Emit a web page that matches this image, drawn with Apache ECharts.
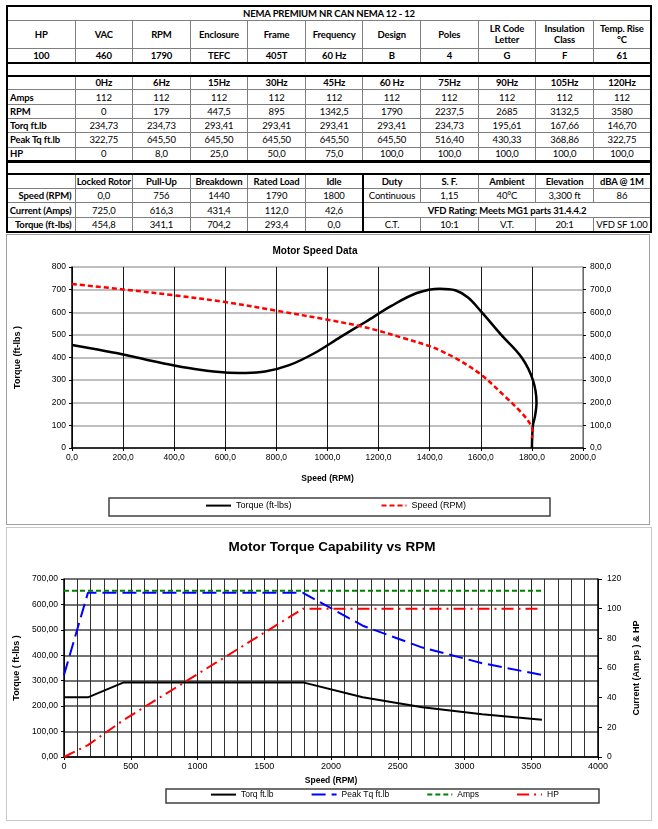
<!DOCTYPE html>
<html>
<head>
<meta charset="utf-8">
<script src="https://cdn.jsdelivr.net/npm/echarts@6/dist/echarts.min.js"></script>
<style>
body { margin:0; background:#fff; width:658px; height:829px; position:relative; overflow:hidden; }
#specs { position:absolute; left:6px; top:5px; width:646px; border-collapse:collapse; table-layout:fixed; border:2px solid #000; font:9.5px Lato, "Liberation Sans", sans-serif; letter-spacing:-0.15px; color:#000; }
#specs td { border:1px solid #7f7f7f; padding:0 1px; text-align:center; white-space:nowrap; overflow:hidden; line-height:11px; }
#specs tr { height:14.3px; }
#specs tr.tall { height:28px; }
#specs tr.gap { height:13px; }
#specs tr.gap td { border-top:2px solid #000; border-bottom:2px solid #000; }
#specs tr.gap2 td { border-top:3px solid #000; }
#specs .b { font-weight:bold; }
#specs td.lab { text-align:left; font-weight:bold; padding-left:2px; }
#specs td.rlab { text-align:right; font-weight:bold; padding-right:3px; }
#specs td.sep { border-left:2px solid #000; }
.frame { position:absolute; box-sizing:border-box; }
#f1 { left:6px; top:234px; width:644px; height:291px; border:1px solid #a0a0a0; }
#f2 { left:6px; top:527px; width:646px; height:294px; border:1px solid #c8c8c8; }
#chart1, #chart2 { width:100%; height:100%; }
</style>
</head>
<body>
<table id="specs"></table>
<div class="frame" id="f1"><div id="chart1"></div></div>
<div class="frame" id="f2"><div id="chart2"></div></div>
<script>
// nameplate table
var specTitle = "NEMA PREMIUM NR CAN NEMA 12 - 12";
var specHeads = ["HP", "VAC", "RPM", "Enclosure", "Frame", "Frequency", "Design", "Poles", "LR Code\nLetter", "Insulation\nClass", "Temp. Rise\n°C"];
var specValues = ["100", "460", "1790", "TEFC", "405T", "60 Hz", "B", "4", "G", "F", "61"];

// per frequency table (also used by the second chart)
var hzLabels = ["0Hz", "6Hz", "15Hz", "30Hz", "45Hz", "60 Hz", "75Hz", "90Hz", "105Hz", "120Hz"];
var hzAmps = [112, 112, 112, 112, 112, 112, 112, 112, 112, 112];
var hzRpm = [0, 179, 447.5, 895, 1342.5, 1790, 2237.5, 2685, 3132.5, 3580];
var hzTorq = [234.73, 234.73, 293.41, 293.41, 293.41, 293.41, 234.73, 195.61, 167.66, 146.70];
var hzPeak = [322.75, 645.50, 645.50, 645.50, 645.50, 645.50, 516.40, 430.33, 368.86, 322.75];
var hzHp = [0, 8, 25, 50, 75, 100, 100, 100, 100, 100];

// speed points table
var pointNames = ["Locked Rotor", "Pull-Up", "Breakdown", "Rated Load", "Idle"];
var pointSpeed = ["0,0", "756", "1440", "1790", "1800"];
var pointCurrent = [725.0, 616.3, 431.4, 112.0, 42.6];
var pointTorque = [454.8, 341.1, 704.2, 293.4, 0.0];
var ratingHeads = ["Duty", "S. F.", "Ambient", "Elevation", "dBA @ 1M"];
var ratingValues = ["Continuous", "1,15", "40°C", "3,300 ft", "86"];
var ratingNote = "VFD Rating: Meets MG1 parts 31.4.4.2";
var ratingLast = ["C.T.", "10:1", "V.T.", "20:1", "VFD SF 1.00"];

// motor speed curves
var torqueRpm = [0, 100, 200, 300, 400, 500, 600, 680, 756, 850, 950, 1050, 1150, 1250, 1350, 1440, 1500, 1550, 1600, 1680, 1760, 1804, 1818, 1812, 1804, 1800];
var torqueFt = [455, 435, 413, 388, 365, 346, 334, 332, 338, 366, 420, 490, 558, 628, 685, 704, 697, 665, 605, 500, 400, 300, 200, 140, 100, 0];
var currentRpm = [0, 200, 400, 600, 800, 1000, 1130, 1200, 1300, 1400, 1440, 1500, 1600, 1700, 1760, 1790, 1803, 1800];
var currentAmp = [725, 701, 675, 645, 607, 567, 538, 518, 485, 450, 431, 398, 325, 222, 155, 112, 75, 42.6];

function fmt(v, d) { return v.toFixed(d).replace(".", ","); }

// build the table
var cols = '<colgroup><col style="width:68px">';
for (var i = 0; i < 10; i++) cols += '<col>';
cols += '</colgroup>';
var h = cols;
h += '<tr><td colspan="11" class="b">' + specTitle + '</td></tr>';
h += '<tr class="tall">' + specHeads.map(function (s) { return '<td class="b">' + s.replace("\n", "<br>") + '</td>'; }).join("") + '</tr>';
h += '<tr>' + specValues.map(function (s) { return '<td class="b">' + s + '</td>'; }).join("") + '</tr>';
h += '<tr class="gap"><td colspan="11"></td></tr>';
h += '<tr><td></td>' + hzLabels.map(function (s) { return '<td class="b">' + s + '</td>'; }).join("") + '</tr>';
function row(label, arr, f) {
  return '<tr><td class="lab">' + label + '</td>' + arr.map(function (v) { return '<td>' + f(v) + '</td>'; }).join("") + '</tr>';
}
h += row("Amps", hzAmps, String);
h += row("RPM", hzRpm, function (v) { return String(v).replace(".", ","); });
h += row("Torq ft.lb", hzTorq, function (v) { return fmt(v, 2); });
h += row("Peak Tq ft.lb", hzPeak, function (v) { return fmt(v, 2); });
h += row("HP", hzHp, function (v) { return v === 0 ? "0" : fmt(v, 1); });
h += '<tr class="gap gap2"><td colspan="11"></td></tr>';
h += '<tr><td></td>' + pointNames.map(function (s) { return '<td class="b">' + s + '</td>'; }).join("") +
  ratingHeads.map(function (s, i) { return '<td class="b' + (i === 0 ? ' sep' : '') + '">' + s + '</td>'; }).join("") + '</tr>';
h += '<tr><td class="rlab">Speed (RPM)</td>' + pointSpeed.map(function (s) { return '<td>' + s + '</td>'; }).join("") +
  ratingValues.map(function (s, i) { return '<td' + (i === 0 ? ' class="sep"' : '') + '>' + s + '</td>'; }).join("") + '</tr>';
h += '<tr><td class="rlab">Current (Amps)</td>' + pointCurrent.map(function (v) { return '<td>' + fmt(v, 1) + '</td>'; }).join("") +
  '<td colspan="5" class="b sep">' + ratingNote + '</td></tr>';
h += '<tr><td class="rlab">Torque (ft-lbs)</td>' + pointTorque.map(function (v) { return '<td>' + fmt(v, 1) + '</td>'; }).join("") +
  ratingLast.map(function (s, i) { return '<td' + (i === 0 ? ' class="sep"' : '') + '>' + s + '</td>'; }).join("") + '</tr>';
document.getElementById("specs").innerHTML = h;

var font = '"Liberation Sans", Arial, sans-serif';

// chart 1: motor speed data
var chart1 = echarts.init(document.getElementById("chart1"));
chart1.setOption({
  animation: false,
  textStyle: { fontFamily: font },
  title: {
    text: "Motor Speed Data", left: 308, top: 11, textAlign: "center", padding: 0,
    textStyle: { fontSize: 10, fontWeight: "bold", color: "#000", fontFamily: font }
  },
  legend: {
    left: 198, top: 265, padding: 0, itemWidth: 25, itemHeight: 14, itemGap: 89,
    itemStyle: { opacity: 0 },
    textStyle: { fontSize: 9, color: "#000", fontFamily: font },
    data: ["Torque (ft-lbs)", "Speed (RPM)"]
  },
  graphic: [{
    type: "rect", silent: true, z: -1,
    shape: { x: 102, y: 263, width: 441, height: 18 },
    style: { fill: "none", stroke: "#404040", lineWidth: 1.5 }
  }],
  grid: { left: 65, top: 32, width: 511, height: 181, outerBoundsMode: "none" },
  xAxis: {
    type: "value", min: 0, max: 2000, interval: 200,
    name: "Speed (RPM)", nameLocation: "middle", nameGap: 26,
    nameTextStyle: { fontSize: 8.5, fontWeight: "bold", color: "#000" },
    axisLine: { lineStyle: { color: "#000", width: 1.5 } },
    axisTick: { length: 3, lineStyle: { color: "#000" } },
    axisLabel: { fontSize: 8.5, color: "#000", margin: 5, formatter: function (v) { return fmt(v, 1); } },
    splitLine: { show: true, lineStyle: { color: "#1a1a1a", width: 1 } }
  },
  yAxis: [{
    type: "value", min: 0, max: 800, interval: 100,
    name: "Torque (ft-lbs )", nameLocation: "middle", nameGap: 50,
    nameTextStyle: { fontSize: 9, fontWeight: "bold", color: "#000" },
    axisLine: { show: true, lineStyle: { color: "#000", width: 1.5 } },
    axisTick: { show: true, length: 3, lineStyle: { color: "#000" } },
    axisLabel: { fontSize: 8.5, color: "#000", margin: 6, formatter: function (v) { return String(v); } },
    splitLine: { show: true, lineStyle: { color: "#aaaaaa", width: 1.5 } }
  }, {
    type: "value", min: 0, max: 800, interval: 100, position: "right",
    axisLine: { show: true, lineStyle: { color: "#888", width: 1.5 } },
    axisTick: { show: true, length: 3, lineStyle: { color: "#000" } },
    axisLabel: { fontSize: 8.5, color: "#000", margin: 7, formatter: function (v) { return fmt(v, 1); } },
    splitLine: { show: false }
  }],
  series: [{
    name: "Torque (ft-lbs)", type: "line", smooth: 0.35, symbol: "none",
    data: torqueRpm.map(function (x, i) { return [x, torqueFt[i]]; }),
    lineStyle: { color: "#000", width: 2.5 }, itemStyle: { color: "#000" }
  }, {
    name: "Speed (RPM)", type: "line", yAxisIndex: 1, smooth: 0.35, symbol: "none",
    data: currentRpm.map(function (x, i) { return [x, currentAmp[i]]; }),
    lineStyle: { color: "#ff0000", width: 2.5, type: [5, 3] }, itemStyle: { color: "#ff0000" }
  }]
});

// chart 2: torque capability vs rpm
var chart2 = echarts.init(document.getElementById("chart2"));
chart2.setOption({
  animation: false,
  textStyle: { fontFamily: font },
  title: {
    text: "Motor Torque Capability vs RPM", left: 325, top: 12, textAlign: "center", padding: 0,
    textStyle: { fontSize: 13.5, fontWeight: "bold", color: "#000", fontFamily: font }
  },
  legend: {
    left: 203, top: 261, padding: 0, itemWidth: 25, itemHeight: 14, itemGap: 37,
    itemStyle: { opacity: 0 },
    textStyle: { fontSize: 8.5, color: "#000", fontFamily: font },
    data: ["Torq ft.lb", "Peak Tq ft.lb", "Amps", "HP"]
  },
  graphic: [{
    type: "rect", silent: true, z: -1,
    shape: { x: 159, y: 261, width: 433, height: 14 },
    style: { fill: "none", stroke: "#404040", lineWidth: 1.5 }
  }],
  grid: { left: 57, top: 51, width: 534, height: 178, outerBoundsMode: "none" },
  xAxis: {
    type: "value", min: 0, max: 4000, interval: 500,
    name: "Speed (RPM)", nameLocation: "middle", nameGap: 17,
    nameTextStyle: { fontSize: 8.5, fontWeight: "bold", color: "#000" },
    axisLine: { lineStyle: { color: "#000", width: 1.5 } },
    axisTick: { length: 3, lineStyle: { color: "#000" } },
    axisLabel: { fontSize: 9, color: "#000", margin: 5, formatter: function (v) { return String(v); } },
    splitLine: { show: true, lineStyle: { color: "#222", width: 1 } },
    minorTick: { show: false, splitNumber: 5 },
    minorSplitLine: { show: true, lineStyle: { color: "#333", width: 1 } }
  },
  yAxis: [{
    type: "value", min: 0, max: 700, interval: 100,
    name: "Torque ( ft-lbs )", nameLocation: "middle", nameGap: 34,
    nameTextStyle: { fontSize: 9, fontWeight: "bold", color: "#000" },
    axisLine: { show: true, lineStyle: { color: "#000", width: 1.5 } },
    axisTick: { show: true, length: 3, lineStyle: { color: "#000" } },
    axisLabel: { fontSize: 8.5, color: "#000", margin: 6, formatter: function (v) { return fmt(v, 2); } },
    splitLine: { show: true, lineStyle: { color: "#444", width: 1.5 } }
  }, {
    type: "value", min: 0, max: 120, interval: 20, position: "right",
    name: "Current (Am ps ) & HP", nameLocation: "middle", nameGap: 30,
    nameTextStyle: { fontSize: 9, fontWeight: "bold", color: "#000" },
    axisLine: { show: true, lineStyle: { color: "#000", width: 1.5 } },
    axisTick: { show: true, length: 4, lineStyle: { color: "#000" } },
    axisLabel: { fontSize: 8.5, color: "#000", margin: 9, formatter: function (v) { return String(v); } },
    splitLine: { show: false }
  }],
  series: [{
    name: "Torq ft.lb", type: "line", symbol: "none",
    data: hzRpm.map(function (x, i) { return [x, hzTorq[i]]; }),
    lineStyle: { color: "#000", width: 2 }, itemStyle: { color: "#000" }
  }, {
    name: "Peak Tq ft.lb", type: "line", symbol: "none",
    data: hzRpm.map(function (x, i) { return [x, hzPeak[i]]; }),
    lineStyle: { color: "#0000ff", width: 2, type: [14, 6] }, itemStyle: { color: "#0000ff" }
  }, {
    name: "Amps", type: "line", yAxisIndex: 1, symbol: "none",
    data: hzRpm.map(function (x, i) { return [x, hzAmps[i]]; }),
    lineStyle: { color: "#008000", width: 2, type: [5, 3] }, itemStyle: { color: "#008000" }
  }, {
    name: "HP", type: "line", yAxisIndex: 1, symbol: "none",
    data: hzRpm.map(function (x, i) { return [x, hzHp[i]]; }),
    lineStyle: { color: "#ff0000", width: 2, type: [12, 5, 2, 5] }, itemStyle: { color: "#ff0000" }
  }]
});
</script>
</body>
</html>
